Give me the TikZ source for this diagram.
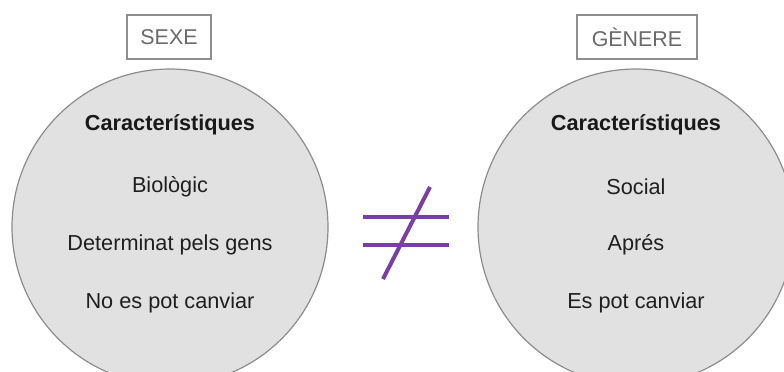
\documentclass[tikz,border=0pt]{standalone}
\usepackage{fontspec}
\setmainfont{Liberation Sans}
\definecolor{circfill}{HTML}{E1E1E1}
\definecolor{circline}{HTML}{8C8C8C}
\definecolor{boxline}{HTML}{8E8E8E}
\definecolor{boxtext}{HTML}{6A6A6A}
\definecolor{neqcol}{HTML}{7A3FA3}
\begin{document}
\begin{tikzpicture}[x=0.5pt,y=-0.5pt,
  bigcircle/.style={circle,draw=circline,fill=circfill,line width=0.6pt,minimum size=316*0.5pt,inner sep=0pt},
  titlebox/.style={draw=boxline,line width=0.6pt,minimum height=44*0.5pt,inner sep=0pt,text=boxtext,font=\fontsize{10.7}{13}\selectfont},
  item/.style={font=\fontsize{10.85}{13}\selectfont,text=black!88},
  head/.style={font=\bfseries\fontsize{10.85}{13}\selectfont,text=black!90},
  neqline/.style={draw=neqcol,line width=2pt}]
\useasboundingbox (0,0) rectangle (784,371);
\clip (0,0) rectangle (784,371);
% boxes
\node[titlebox,minimum width=84*0.5pt] (sexe) at (169,37) {SEXE};
\node[titlebox,minimum width=120*0.5pt] (genere) at (637,37) {GÈNERE};
% circles
\node[bigcircle] (lc) at (170,227) {};
\node[bigcircle] (rc) at (636,227) {};
% left texts
\node[head] (lh) at (170,125) {Característiques};
\node[item] (l1) at (170,187) {Biològic};
\node[item] (l2) at (170,245) {Determinat pels gens};
\node[item] (l3) at (170,303) {No es pot canviar};
% right texts
\node[head] (rh) at (636,125) {Característiques};
\node[item] (r1) at (636,187) {Social};
\node[item] (r2) at (636,245) {Aprés};
\node[item] (r3) at (636,303) {Es pot canviar};
% not equal sign
\coordinate (h1a) at (363,217);
\coordinate (h1b) at (449,217);
\coordinate (h2a) at (363,245);
\coordinate (h2b) at (449,245);
\coordinate (sa) at (430,187);
\coordinate (sb) at (383,279);
\draw[neqline] (h1a) -- (h1b);
\draw[neqline] (h2a) -- (h2b);
\draw[neqline] (sa) -- (sb);
\end{tikzpicture}
\end{document}
